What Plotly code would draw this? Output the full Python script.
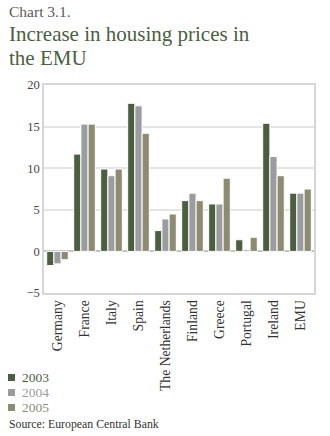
import plotly.graph_objects as go

countries = ["Germany", "France", "Italy", "Spain", "The Netherlands", "Finland",
             "Greece", "Portugal", "Ireland", "EMU"]
v2003 = [-1.7, 11.7, 9.9, 17.8, 2.5, 6.1, 5.7, 1.4, 15.4, 7.0]
v2004 = [-1.5, 15.3, 9.1, 17.5, 3.9, 7.0, 5.7, 0.2, 11.4, 7.0]
v2005 = [-1.0, 15.3, 9.9, 14.2, 4.5, 6.1, 8.8, 1.7, 9.1, 7.5]
years = ["2003", "2004", "2005"]
colors = ["#4b5e3f", "#9b9ca0", "#8e8b73"]
yticks = [-5, 0, 5, 10, 15, 20]

FONT = "Liberation Serif"

fig = go.Figure()
for name, vals, col in zip(years, [v2003, v2004, v2005], colors):
    fig.add_trace(go.Bar(x=countries, y=vals, name=name, marker_color=col,
                         marker_line_color="white", marker_line_width=1,
                         showlegend=False))

fig.update_layout(
    width=330, height=436,
    margin=dict(l=44, r=16, t=85, b=143),
    paper_bgcolor="white", plot_bgcolor="white",
    barmode="group", bargap=0.2, bargroupgap=0,
    font=dict(family=FONT, color="#444444", size=12),
    xaxis=dict(tickangle=-90, showline=True, mirror=True, linecolor="#d6d6d6",
               linewidth=1.5, ticks="", tickfont=dict(size=13.7, color="#333333")),
    yaxis=dict(range=[-5, 20], tickvals=yticks, showline=True, mirror=True,
               linecolor="#d6d6d6", linewidth=1.5, gridcolor="#e4e4e4", gridwidth=1.5,
               zeroline=True, zerolinecolor="#c4c4c4", zerolinewidth=1.5,
               ticks="", tickfont=dict(size=12.5, color="#444444")),
)

anns = [
    dict(text="Chart 3.1.", x=7, y=12, font=dict(size=15.5, color="#5a5a5a")),
    dict(text="Increase in housing prices in", x=7, y=34, font=dict(size=21, color="#4a6040")),
    dict(text="the EMU", x=7, y=58, font=dict(size=21, color="#4a6040")),
    dict(text="Source: European Central Bank", x=7, y=424, font=dict(size=11.8, color="#333333")),
]
for i, (yr, col) in enumerate(zip(years, colors)):
    yy = 377 + 15 * i
    anns.append(dict(text=yr, x=20, y=yy, font=dict(size=13.5, color=col)))
    fig.add_shape(type="rect", xref="paper", yref="paper",
                  x0=(8 - 44) / 270, x1=(15 - 44) / 270,
                  y0=(293 - yy - 4) / 208, y1=(293 - yy + 3) / 208,
                  fillcolor=col, line_width=0)

for a in anns:
    fig.add_annotation(text=a["text"], xref="paper", yref="paper",
                       x=(a["x"] - 44) / 270, y=(293 - a["y"]) / 208,
                       xanchor="left", yanchor="middle", showarrow=False,
                       font=dict(family=FONT, **a["font"]))

fig.write_html("out.html")
